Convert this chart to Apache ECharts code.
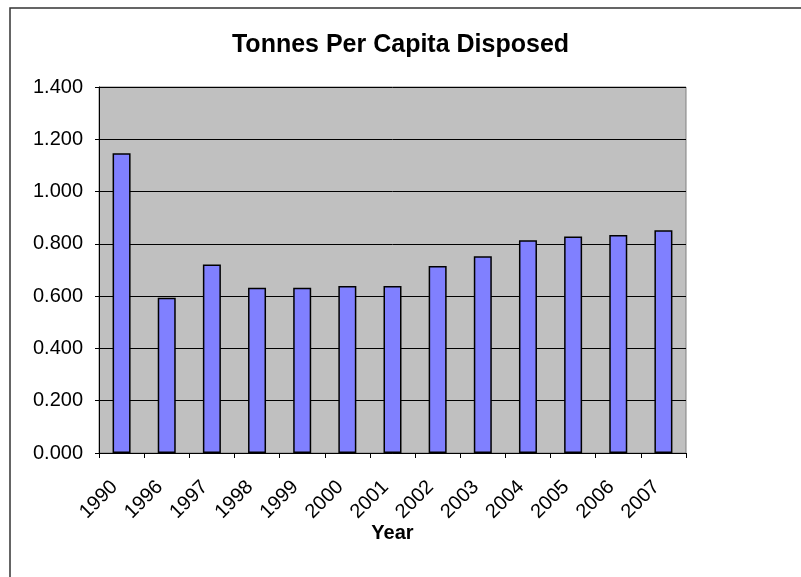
<!DOCTYPE html>
<html>
<head>
<meta charset="utf-8">
<script src="https://cdn.jsdelivr.net/npm/echarts@6/dist/echarts.min.js"></script>
<style>
  html, body { margin: 0; padding: 0; background: #fff; }
  #main { width: 801px; height: 577px; }
</style>
</head>
<body>
<div id="main"></div>
<script>
var years = ['1990', '1996', '1997', '1998', '1999', '2000', '2001', '2002', '2003', '2004', '2005', '2006', '2007'];
var tonnes = [1.147, 0.594, 0.721, 0.632, 0.632, 0.639, 0.639, 0.715, 0.753, 0.814, 0.828, 0.834, 0.852];
var yTicks = [0, 0.2, 0.4, 0.6, 0.8, 1.0, 1.2, 1.4];

var chart = echarts.init(document.getElementById('main'));
var font = 'Liberation Sans, Arial, sans-serif';

var option = {
    animation: false,
    title: {
        text: 'Tonnes Per Capita Disposed',
        left: 'center',
        top: 28,
        textStyle: { fontFamily: font, fontSize: 25, fontWeight: 'bold', color: '#000' }
    },
    graphic: [{
        type: 'rect',
        shape: { x: 10, y: 8, width: 800, height: 600 },
        style: { fill: 'none', stroke: '#333', lineWidth: 1.5 },
        z: -1
    }],
    grid: {
        left: 99, top: 87, right: 115, bottom: 124,
        show: true,
        backgroundColor: '#C0C0C0',
        borderColor: '#808080',
        borderWidth: 1
    },
    xAxis: {
        type: 'category',
        data: years,
        name: 'Year',
        nameLocation: 'middle',
        nameGap: 70,
        nameMoveOverlap: false,
        nameTextStyle: { fontFamily: font, fontSize: 20, fontWeight: 'bold', color: '#000' },
        axisLine: { lineStyle: { color: '#000', width: 1 } },
        axisTick: { show: true, length: 5, lineStyle: { color: '#000' } },
        axisLabel: { rotate: 45, margin: 38, verticalAlign: 'bottom', fontFamily: font, fontSize: 20, color: '#000' }
    },
    yAxis: {
        type: 'value',
        min: yTicks[0],
        max: yTicks[yTicks.length - 1],
        interval: 0.2,
        axisLine: { show: true, lineStyle: { color: '#000', width: 1 } },
        axisTick: { show: true, length: 4, lineStyle: { color: '#000' } },
        axisLabel: {
            margin: 16,
            fontFamily: font, fontSize: 20, color: '#000',
            formatter: function (v) { return v.toFixed(3); }
        },
        splitLine: { lineStyle: { color: '#000', width: 1 } }
    },
    series: [{
        type: 'bar',
        data: tonnes,
        barWidth: 18,
        itemStyle: { color: '#8080FF', borderColor: '#000', borderWidth: 1.5 }
    }]
};

chart.setOption(option);
</script>
</body>
</html>
